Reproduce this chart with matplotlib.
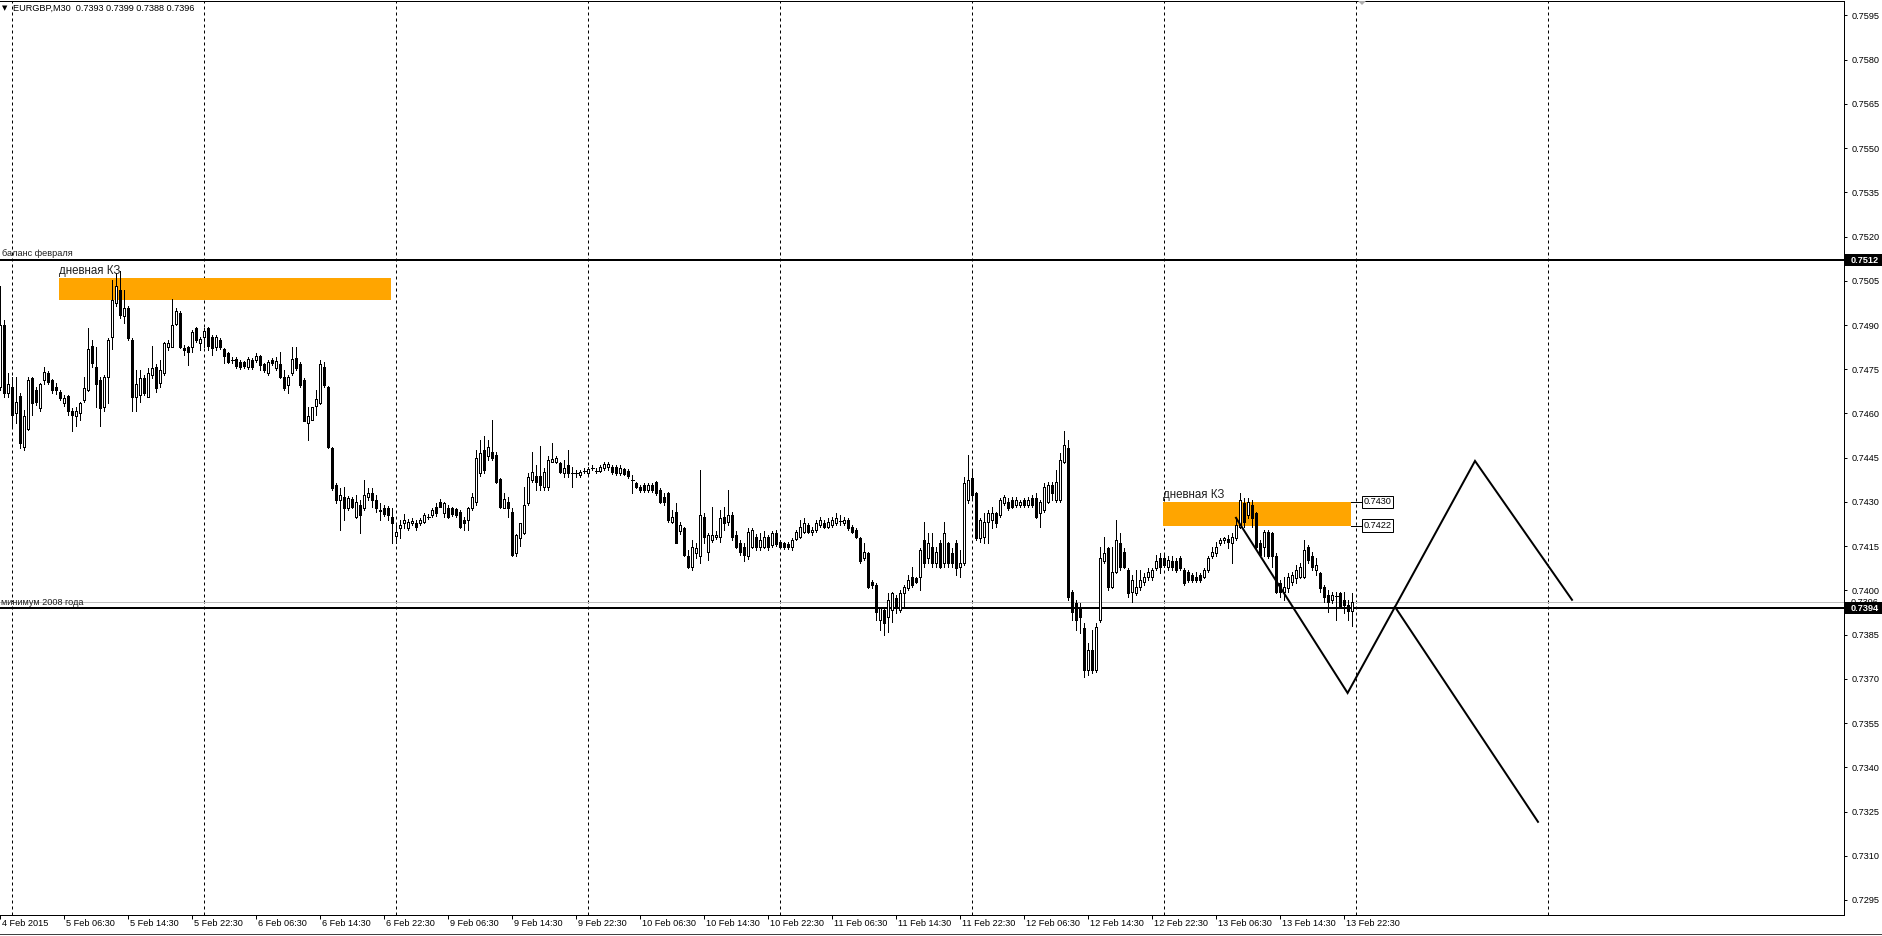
import matplotlib
matplotlib.use("Agg")
import matplotlib.pyplot as plt
import matplotlib.transforms as mtransforms
from matplotlib.patches import Rectangle, Polygon
import numpy as np

plt.rcParams['font.family'] = ['Liberation Sans', 'DejaVu Sans']

# ---------------- data (prices in 1e-5 units, EURGBP M30) ----------------
first_bar = -3  # bar index of the first candle (4 Feb 22:30); 5 Feb 00:00 = 0

opens = [74691, 74901, 74669, 74691, 74600, 74660, 74488, 74547, 74720, 74680,
         74618, 74714, 74737, 74712, 74691, 74674, 74637, 74660, 74607, 74590,
         74601, 74646, 74680, 74829, 74757, 74714, 74623, 74725, 74859, 74976,
         75019, 74929, 74957, 74850, 74657, 74662, 74720, 74657, 74731, 74759,
         74703, 74737, 74825, 74827, 74904, 74940, 74821, 74825, 74827, 74889,
         74838, 74859, 74889, 74859, 74825, 74850, 74818, 74804, 74782, 74784,
         74776, 74773, 74759, 74782, 74782, 74795, 74768, 74737, 74782, 74754,
         74768, 74725, 74697, 74737, 74787, 74768, 74712, 74567, 74578, 74626,
         74637, 74759, 74691, 74482, 74358, 74307, 74318, 74279, 74309, 74250,
         74290, 74279, 74316, 74330, 74307, 74273, 74279, 74279, 74250, 74185,
         74211, 74228, 74211, 74228, 74230, 74228, 74233, 74250, 74256, 74282,
         74301, 74262, 74279, 74279, 74275, 74267, 74239, 74239, 74279, 74301,
         74397, 74476, 74456, 74471, 74460, 74377, 74279, 74301, 74267, 74126,
         74177, 74194, 74298, 74375, 74388, 74388, 74352, 74350, 74437, 74437,
         74431, 74397, 74426, 74398, 74397, 74392, 74405, 74397, 74416, 74406,
         74406, 74414, 74418, 74420, 74418, 74397, 74411, 74406, 74376, 74363,
         74352, 74357, 74341, 74358, 74366, 74341, 74318, 74330, 74233, 74267,
         74200, 74211, 74115, 74081, 74126, 74115, 74250, 74131, 74171, 74182,
         74182, 74250, 74233, 74256, 74188, 74160, 74148, 74115, 74148, 74182,
         74148, 74148, 74182, 74154, 74196, 74165, 74160, 74158, 74148, 74175,
         74182, 74199, 74222, 74199, 74205, 74222, 74228, 74216, 74222, 74228,
         74235, 74228, 74239, 74216, 74205, 74177, 74109, 74126, 74030, 74019,
         73900, 73934, 73911, 73934, 73973, 73934, 73990, 74007, 74047, 74041,
         74047, 74171, 74109, 74148, 74092, 74160, 74092, 74160, 74126, 74160,
         74081, 74092, 74307, 74380, 74329, 74177, 74182, 74233, 74239, 74262,
         74256, 74295, 74301, 74307, 74290, 74290, 74307, 74290, 74312, 74312,
         74262, 74273, 74301, 74358, 74307, 74307, 74437, 74482, 73996, 73956,
         73945, 73871, 73730, 73798, 73730, 73900, 74098, 74143, 74013, 74064,
         74160, 74131, 74069, 73996, 73990, 74013, 74030, 74047, 74047, 74075,
         74109, 74109, 74081, 74098, 74098, 74109, 74069, 74064, 74052, 74047,
         74052, 74047, 74069, 74115, 74126, 74160, 74171, 74175, 74160, 74177,
         74216, 74295, 74256, 74290, 74262, 74160, 74148, 74199, 74194, 74115,
         74024, 73996, 74007, 74030, 74041, 74047, 74047, 74148, 74115, 74069,
         74058, 74013, 73985, 73968, 73980, 73990, 73968, 73950, 73930]

highs = [75031, 74917, 74737, 74725, 74725, 74669, 74612, 74725, 74725, 74690,
         74705, 74757, 74745, 74718, 74703, 74680, 74663, 74663, 74618, 74623,
         74640, 74725, 74889, 74850, 74827, 74725, 74730, 74855, 75053, 75076,
         75082, 75019, 74963, 74855, 74748, 74748, 74731, 74754, 74829, 74768,
         74782, 74844, 74850, 74988, 74957, 74946, 74833, 74829, 74884, 74895,
         74861, 74889, 74895, 74867, 74865, 74856, 74821, 74808, 74793, 74790,
         74782, 74778, 74790, 74788, 74804, 74799, 74772, 74782, 74788, 74793,
         74810, 74748, 74731, 74827, 74827, 74776, 74720, 74623, 74623, 74680,
         74782, 74776, 74694, 74488, 74363, 74346, 74352, 74321, 74316, 74324,
         74307, 74375, 74346, 74346, 74324, 74296, 74290, 74287, 74279, 74228,
         74239, 74259, 74241, 74245, 74239, 74245, 74262, 74260, 74279, 74298,
         74309, 74301, 74290, 74284, 74280, 74273, 74250, 74284, 74330, 74476,
         74510, 74522, 74510, 74578, 74471, 74380, 74330, 74318, 74279, 74192,
         74230, 74352, 74397, 74471, 74426, 74490, 74414, 74456, 74499, 74455,
         74437, 74443, 74476, 74420, 74409, 74409, 74414, 74417, 74426, 74414,
         74426, 74435, 74437, 74426, 74424, 74426, 74416, 74411, 74392, 74369,
         74358, 74363, 74363, 74363, 74372, 74346, 74330, 74335, 74273, 74296,
         74233, 74216, 74137, 74171, 74160, 74409, 74262, 74194, 74284, 74200,
         74273, 74284, 74341, 74267, 74200, 74171, 74160, 74211, 74211, 74190,
         74194, 74200, 74188, 74200, 74205, 74171, 74165, 74165, 74177, 74205,
         74239, 74245, 74230, 74216, 74239, 74250, 74239, 74245, 74250, 74262,
         74256, 74250, 74245, 74222, 74211, 74182, 74160, 74131, 74035, 74024,
         73945, 73945, 73990, 73996, 73985, 74001, 74019, 74052, 74081, 74047,
         74143, 74233, 74194, 74194, 74148, 74171, 74233, 74165, 74143, 74171,
         74137, 74386, 74460, 74409, 74335, 74245, 74262, 74273, 74284, 74267,
         74312, 74324, 74312, 74318, 74316, 74307, 74312, 74316, 74324, 74329,
         74307, 74363, 74369, 74369, 74409, 74465, 74539, 74510, 74001, 73968,
         73956, 73888, 73820, 73866, 73888, 74148, 74182, 74148, 74148, 74239,
         74194, 74143, 74075, 74052, 74069, 74069, 74058, 74075, 74075, 74120,
         74126, 74120, 74115, 74115, 74109, 74115, 74075, 74069, 74058, 74064,
         74058, 74075, 74115, 74148, 74165, 74177, 74182, 74188, 74194, 74239,
         74329, 74312, 74312, 74307, 74267, 74171, 74205, 74205, 74199, 74126,
         74035, 74047, 74058, 74064, 74086, 74092, 74171, 74154, 74131, 74109,
         74064, 74019, 74001, 73996, 73996, 73996, 73996, 73968, 73990]

lows = [74680, 74657, 74657, 74556, 74567, 74482, 74476, 74544, 74595, 74630,
        74610, 74700, 74700, 74670, 74667, 74645, 74626, 74595, 74539, 74556,
        74578, 74640, 74675, 74759, 74623, 74556, 74610, 74635, 74818, 74963,
        74923, 74906, 74850, 74607, 74607, 74640, 74663, 74657, 74720, 74674,
        74691, 74731, 74816, 74825, 74901, 74821, 74799, 74765, 74810, 74844,
        74816, 74827, 74816, 74799, 74815, 74818, 74770, 74770, 74770, 74755,
        74750, 74755, 74752, 74752, 74776, 74748, 74742, 74731, 74765, 74748,
        74720, 74680, 74669, 74731, 74748, 74691, 74573, 74510, 74578, 74595,
        74633, 74691, 74482, 74341, 74296, 74205, 74239, 74273, 74278, 74245,
        74196, 74273, 74307, 74284, 74267, 74239, 74253, 74239, 74160, 74160,
        74177, 74211, 74205, 74222, 74205, 74222, 74228, 74242, 74250, 74253,
        74282, 74250, 74245, 74253, 74250, 74211, 74205, 74205, 74273, 74290,
        74388, 74397, 74443, 74443, 74363, 74279, 74279, 74250, 74115, 74115,
        74149, 74192, 74290, 74369, 74341, 74341, 74341, 74341, 74437, 74432,
        74397, 74386, 74386, 74352, 74386, 74386, 74398, 74392, 74409, 74398,
        74400, 74409, 74409, 74395, 74392, 74392, 74390, 74380, 74330, 74346,
        74335, 74335, 74335, 74333, 74324, 74295, 74290, 74233, 74228, 74160,
        74190, 74115, 74075, 74069, 74110, 74092, 74160, 74103, 74165, 74175,
        74165, 74205, 74222, 74171, 74143, 74120, 74098, 74106, 74143, 74137,
        74137, 74143, 74137, 74148, 74150, 74143, 74140, 74140, 74137, 74170,
        74177, 74194, 74194, 74188, 74199, 74216, 74210, 74210, 74216, 74222,
        74222, 74222, 74205, 74194, 74177, 74092, 74103, 74007, 74007, 73900,
        73866, 73849, 73860, 73894, 73922, 73928, 73945, 74001, 74013, 74024,
        74001, 74081, 74092, 74081, 74081, 74075, 74081, 74081, 74081, 74052,
        74047, 74086, 74295, 74307, 74171, 74165, 74160, 74160, 74211, 74216,
        74250, 74290, 74273, 74278, 74284, 74284, 74284, 74284, 74284, 74245,
        74216, 74267, 74295, 74307, 74301, 74301, 74431, 73968, 73900, 73866,
        73854, 73707, 73713, 73719, 73724, 73894, 74092, 74001, 74007, 74058,
        74069, 74075, 73979, 73962, 73985, 74001, 74019, 74035, 74035, 74069,
        74058, 74081, 74069, 74069, 74064, 74069, 74019, 74030, 74030, 74030,
        74030, 74041, 74064, 74109, 74115, 74154, 74160, 74143, 74092, 74171,
        74211, 74216, 74245, 74216, 74143, 74115, 74115, 74109, 74081, 73990,
        73979, 73968, 73996, 74019, 74024, 74041, 74041, 74092, 74069, 74052,
        73996, 73962, 73928, 73956, 73900, 73939, 73922, 73900, 73880]

closes = [74901, 74669, 74700, 74595, 74640, 74499, 74590, 74714, 74635, 74640,
          74700, 74742, 74708, 74678, 74678, 74652, 74652, 74607, 74595, 74607,
          74637, 74688, 74818, 74770, 74700, 74618, 74723, 74850, 74985, 75031,
          74934, 74957, 74855, 74657, 74700, 74720, 74669, 74737, 74754, 74688,
          74748, 74838, 74838, 74901, 74949, 74825, 74816, 74810, 74878, 74850,
          74852, 74881, 74829, 74821, 74859, 74825, 74795, 74776, 74780, 74761,
          74757, 74761, 74784, 74757, 74795, 74765, 74748, 74776, 74770, 74779,
          74725, 74688, 74725, 74786, 74754, 74697, 74576, 74590, 74621, 74648,
          74768, 74697, 74488, 74346, 74307, 74324, 74279, 74313, 74284, 74301,
          74256, 74324, 74330, 74307, 74279, 74270, 74259, 74256, 74228, 74199,
          74222, 74239, 74233, 74237, 74216, 74239, 74256, 74251, 74273, 74262,
          74284, 74298, 74250, 74259, 74256, 74216, 74228, 74279, 74318, 74448,
          74467, 74409, 74488, 74448, 74366, 74282, 74309, 74279, 74120, 74188,
          74228, 74290, 74386, 74400, 74366, 74358, 74403, 74443, 74445, 74448,
          74403, 74414, 74397, 74397, 74396, 74403, 74406, 74411, 74417, 74407,
          74420, 74429, 74429, 74401, 74397, 74414, 74395, 74388, 74375, 74352,
          74341, 74341, 74358, 74339, 74330, 74301, 74301, 74239, 74250, 74160,
          74222, 74120, 74081, 74148, 74143, 74256, 74182, 74188, 74188, 74188,
          74245, 74228, 74256, 74182, 74148, 74131, 74120, 74199, 74205, 74148,
          74171, 74182, 74148, 74194, 74157, 74148, 74148, 74147, 74171, 74199,
          74216, 74228, 74199, 74205, 74228, 74239, 74216, 74233, 74239, 74245,
          74236, 74239, 74211, 74199, 74182, 74098, 74131, 74013, 74019, 73928,
          73939, 73888, 73968, 73990, 73939, 73990, 74013, 74035, 74019, 74030,
          74137, 74092, 74160, 74092, 74131, 74081, 74194, 74092, 74092, 74075,
          74092, 74363, 74375, 74324, 74177, 74239, 74233, 74262, 74262, 74228,
          74307, 74318, 74278, 74284, 74307, 74301, 74290, 74307, 74290, 74250,
          74301, 74352, 74358, 74329, 74369, 74443, 74493, 73979, 73928, 73900,
          73911, 73730, 73798, 73730, 73877, 74109, 74126, 74013, 74064, 74171,
          74081, 74081, 73990, 74035, 74013, 74035, 74047, 74064, 74069, 74098,
          74081, 74086, 74103, 74081, 74069, 74075, 74024, 74035, 74035, 74035,
          74035, 74069, 74109, 74131, 74148, 74171, 74177, 74165, 74182, 74222,
          74307, 74233, 74301, 74245, 74148, 74120, 74199, 74115, 74115, 73996,
          73996, 74013, 74047, 74052, 74069, 74081, 74137, 74103, 74081, 74086,
          74007, 73979, 73962, 73985, 73979, 73945, 73950, 73930, 73960]

# time axis (bar index positions and their labels)
x_tick_pos = [-3, 13, 29, 45, 61, 77, 93, 109, 125, 141, 157, 173, 189, 205,
              221, 237, 253, 269, 285, 301, 317, 333]
x_tick_labels = ["4 Feb 2015", "5 Feb 06:30", "5 Feb 14:30", "5 Feb 22:30",
                 "6 Feb 06:30", "6 Feb 14:30", "6 Feb 22:30", "9 Feb 06:30",
                 "9 Feb 14:30", "9 Feb 22:30", "10 Feb 06:30", "10 Feb 14:30",
                 "10 Feb 22:30", "11 Feb 06:30", "11 Feb 14:30", "11 Feb 22:30",
                 "12 Feb 06:30", "12 Feb 14:30", "12 Feb 22:30", "13 Feb 06:30",
                 "13 Feb 14:30", "13 Feb 22:30"]
day_starts = [0, 48, 96, 144, 192, 240, 288, 336, 384]

y_ticks = [0.7595, 0.7580, 0.7565, 0.7550, 0.7535, 0.7520, 0.7505, 0.7490,
           0.7475, 0.7460, 0.7445, 0.7430, 0.7415, 0.7400, 0.7385, 0.7370,
           0.7355, 0.7340, 0.7325, 0.7310, 0.7295]

level_balance = 0.7512
level_min2008 = 0.7394
bid_price = 0.7396

zone1 = dict(x0=11.75, x1=94.75, lo=0.74985, hi=0.75060)
zone2 = dict(x0=287.75, x1=334.75, lo=0.7422, hi=0.7430)

zig_main_x = [306, 333.9, 345.75, 365.75, 390]
zig_main_y = [0.74246, 0.73652, 0.73944, 0.74439, 0.73968]
zig_alt_x = [345.75, 381.5]
zig_alt_y = [0.73944, 0.73215]

header = "EURGBP,M30  0.7393 0.7399 0.7388 0.7396"

# ---------------- figure ----------------
W, H, DPI = 1882, 936, 100
fig = plt.figure(figsize=(W / DPI, H / DPI), dpi=DPI)
fig.patch.set_facecolor('white')
AX_L, AX_R, AX_T, AX_B = 0, 1844, 1, 915
ax = fig.add_axes([AX_L / W, 1 - AX_B / H, (AX_R - AX_L) / W, (AX_B - AX_T) / H])
ax.set_xlim(-3, 458)
ax.set_ylim(0.72899, 0.75999)
PX = 72.0 / DPI  # one pixel in points
FS = 6.6

for sp in ax.spines.values():
    sp.set_color('black')
    sp.set_linewidth(PX)
ax.spines['left'].set_visible(False)

# grid (day separators)
for d in day_starts:
    ax.axvline(d, color='black', lw=PX, linestyle=(0, (3, 3)), zorder=1)

# horizontal levels
ax.axhline(bid_price, color='#c0c0c0', lw=PX, zorder=2)
ax.axhline(level_balance, color='black', lw=2 * PX, zorder=2)
ax.axhline(level_min2008, color='black', lw=2 * PX, zorder=2)

# zones
for z in (zone1, zone2):
    ax.add_patch(Rectangle((z['x0'], z['lo']), z['x1'] - z['x0'], z['hi'] - z['lo'],
                           facecolor='#FFA500', edgecolor='none', zorder=1.5))

# candles
o = np.array(opens) / 1e5
h = np.array(highs) / 1e5
l = np.array(lows) / 1e5
c = np.array(closes) / 1e5
xs = np.arange(len(c)) + first_bar
ax.vlines(xs, l, h, colors='black', linewidth=PX, antialiased=False, zorder=3)
for x, oo, cc in zip(xs, o, c):
    bot, top = min(oo, cc), max(oo, cc)
    if top - bot < 0.000025:
        ax.hlines((oo + cc) / 2, x - 0.375, x + 0.375, colors='black', lw=PX,
                  antialiased=False, zorder=4)
    else:
        fc = 'black' if cc < oo else 'white'
        ax.add_patch(Rectangle((x - 0.25, bot), 0.5, top - bot, facecolor=fc,
                               edgecolor='black', linewidth=PX, antialiased=False,
                               zorder=4))

# projection zigzag
ax.plot(zig_main_x, zig_main_y, color='black', lw=2 * PX, zorder=5,
        solid_joinstyle='miter')
ax.plot(zig_alt_x, zig_alt_y, color='black', lw=2 * PX, zorder=5)

# text labels on chart
def off(tr, dx, dy):
    return mtransforms.offset_copy(tr, fig=fig, x=dx, y=dy, units='dots')

ax.text(-3, level_balance, "баланс февраля", transform=off(ax.transData, 2, 2),
        fontsize=FS, va='bottom', ha='left', color='#202020', zorder=6)
ax.text(-3, level_min2008, "минимум 2008 года", transform=off(ax.transData, 1, 1.5),
        fontsize=FS, va='bottom', ha='left', color='#202020', zorder=6)
ax.text(zone1['x0'], zone1['hi'], "дневная КЗ", transform=off(ax.transData, 0, 4),
        fontsize=8.3, va='baseline', ha='left', color='#202020', zorder=6)
ax.text(zone2['x0'], zone2['hi'], "дневная КЗ", transform=off(ax.transData, 0, 4),
        fontsize=8.3, va='baseline', ha='left', color='#202020', zorder=6)

# price tags at the right of zone 2
for v in (zone2['hi'], zone2['lo']):
    ax.plot([zone2['x1'], zone2['x1'] + 3], [v, v], color='black', lw=PX, zorder=6)
    ax.text(zone2['x1'] + 3.2, v, "%.4f" % v, transform=ax.transData,
            fontsize=FS, va='center', ha='left', color='black', zorder=7,
            bbox=dict(boxstyle='square,pad=0.18', fc='white', ec='black', lw=PX))

# axes ticks
ax.yaxis.tick_right()
ax.set_yticks(y_ticks)
ax.set_yticklabels(["%.4f" % v for v in y_ticks])
ax.tick_params(axis='y', length=3 * PX, width=PX, pad=3, labelsize=FS,
               colors='black')
ax.set_xticks(x_tick_pos)
ax.tick_params(axis='x', length=4 * PX, width=PX, labelbottom=False)
tb = mtransforms.blended_transform_factory(ax.transData, ax.transAxes)
for xp, lab in zip(x_tick_pos, x_tick_labels):
    ax.text(xp, 0, lab, transform=off(tb, 2, -9), fontsize=FS, ha='left',
            va='center', clip_on=False)

# right axis highlighted price boxes
ty = mtransforms.blended_transform_factory(fig.transFigure, ax.transData)
box_h = 12 / 29480.0
ax.text(1851 / W, bid_price, "0.7396", transform=ty, fontsize=FS, va='center',
        ha='left', color='black', clip_on=False, zorder=8)
for v in (level_balance, level_min2008):
    r = Rectangle((1845 / W, v - box_h / 2), (W - 1845) / W, box_h, transform=ty,
                  facecolor='black', edgecolor='none', clip_on=False, zorder=9)
    fig.add_artist(r)
    fig.text(1851 / W, v, "%.4f" % v, transform=ty, fontsize=FS, va='center',
             ha='left', color='white', zorder=10, fontweight='bold')

# header
fig.text(2 / W, 1 - 8 / H, "▼", fontsize=5, va='center', ha='left',
         family='DejaVu Sans')
fig.text(13 / W, 1 - 8 / H, header, fontsize=FS, va='center', ha='left')

# shift marker at top
fig.add_artist(Polygon([[1358 / W, 1 - 1 / H], [1366 / W, 1 - 1 / H], [1362 / W, 1 - 5 / H]],
                       closed=True, transform=fig.transFigure, facecolor='#b0b0b0',
                       edgecolor='none'))
# bottom window border
fig.add_artist(plt.Line2D([0, 1], [1 - 934 / H, 1 - 934 / H], transform=fig.transFigure,
                          color='#404040', lw=PX))

fig.savefig("out.png", dpi=DPI, facecolor='white')
